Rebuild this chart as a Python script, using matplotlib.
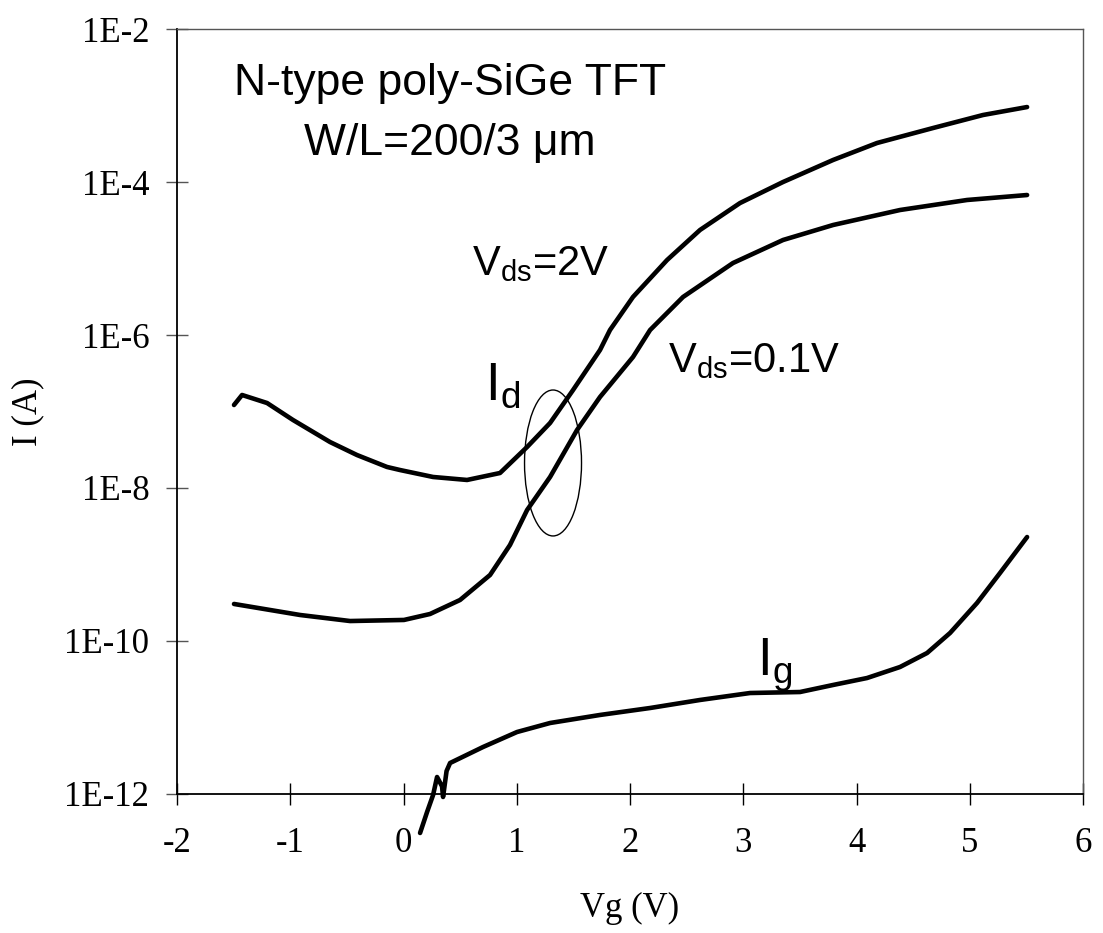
import numpy as np
import matplotlib
matplotlib.use('Agg')
import matplotlib.pyplot as plt
from matplotlib.patches import Ellipse

############################################################
# Data (Vg in V, log10 of current in A)

vg_2v = [-1.497, -1.426, -1.205, -0.976, -0.649, -0.411, -0.146, -0.031, 0.261, 0.561,
         0.852, 1.091, 1.294, 1.497, 1.735, 1.823, 2.026, 2.327, 2.618, 2.971,
         3.351, 3.793, 4.181, 4.676, 5.117, 5.506]
logi_2v = [-6.915, -6.784, -6.889, -7.111, -7.399, -7.569, -7.725, -7.765, -7.856, -7.895,
           -7.804, -7.464, -7.150, -6.719, -6.196, -5.935, -5.503, -5.020, -4.627, -4.275,
           -4.000, -3.712, -3.490, -3.294, -3.124, -3.020]

vg_01v = [-1.497, -0.914, -0.472, 0.004, 0.234, 0.499, 0.764, 0.940, 1.091, 1.294,
          1.532, 1.735, 2.026, 2.177, 2.468, 2.909, 3.351, 3.793, 4.384, 4.976, 5.506]
logi_01v = [-9.516, -9.660, -9.739, -9.725, -9.647, -9.464, -9.137, -8.745, -8.288, -7.856,
            -7.242, -6.810, -6.288, -5.935, -5.503, -5.059, -4.758, -4.562, -4.366, -4.235, -4.170]

vg_ig = [0.146, 0.208, 0.261, 0.296, 0.340, 0.349, 0.380, 0.411, 0.702, 1.002,
         1.294, 1.735, 2.177, 2.618, 3.060, 3.501, 3.793, 4.093, 4.384, 4.623,
         4.826, 5.064, 5.267, 5.506]
logi_ig = [-12.510, -12.235, -12.013, -11.778, -11.90, -12.039, -11.70, -11.595, -11.386, -11.190,
           -11.072, -10.967, -10.876, -10.771, -10.680, -10.667, -10.575, -10.484, -10.340, -10.157,
           -9.895, -9.503, -9.111, -8.641]

yticks = [1e-12, 1e-10, 1e-8, 1e-6, 1e-4, 1e-2]
ytick_labels = ['1E-12', '1E-10', '1E-8', '1E-6', '1E-4', '1E-2']
xticks = [-2, -1, 0, 1, 2, 3, 4, 5, 6]

############################################################
# Plotting

plt.rcParams['mathtext.fontset'] = 'custom'
plt.rcParams['mathtext.rm'] = 'Liberation Sans'

fig = plt.figure(figsize=(11.03, 9.33), dpi=100)
ax = fig.add_axes([0.1605, 0.149, 0.8214, 0.8199])

lw = 3.3
for xs, ys, clip in [(vg_2v, logi_2v, True), (vg_01v, logi_01v, True),
                     (vg_ig, logi_ig, False)]:
    ax.plot(xs, 10.0 ** np.array(ys), color='k', lw=lw, solid_capstyle='round',
            solid_joinstyle='round', clip_on=clip)

ax.set_yscale('log')
ax.set_xlim(-2, 6)
ax.set_ylim(1e-12, 1e-2)
ax.set_yticks(yticks)
ax.set_yticklabels(ytick_labels)
ax.yaxis.set_minor_locator(matplotlib.ticker.NullLocator())
ax.set_xticks(xticks)
ax.set_xticklabels([str(x) for x in xticks])

serif = 'Liberation Serif'
for lab in ax.get_xticklabels() + ax.get_yticklabels():
    lab.set_family(serif)
    lab.set_fontsize(25)
ax.tick_params(axis='both', direction='inout', length=16, width=1.0)
ax.tick_params(axis='y', pad=12, color='#555555')
ax.tick_params(axis='x', pad=16, color='k')

ax.set_xlabel('Vg (V)', family=serif, size=25, labelpad=23)
ax.set_ylabel('I (A)', family=serif, size=25, labelpad=14)

for s in ['left', 'bottom']:
    ax.spines[s].set_color('k')
    ax.spines[s].set_linewidth(1.3)
for s in ['top', 'right']:
    ax.spines[s].set_color('#555555')
    ax.spines[s].set_linewidth(1.0)

sans = 'Liberation Sans'
ax.text(0.411, 10 ** -2.863, 'N-type poly-SiGe TFT', family=sans, size=32,
        ha='center', va='baseline')
ax.text(0.411, 10 ** -3.647, 'W/L=200/3 \u03bcm', family=sans, size=32,
        ha='center', va='baseline')
ax.text(0.605, 10 ** -5.216, r'$\mathrm{V_{ds}}$=2V', family=sans, size=30,
        ha='left', va='baseline')
ax.text(2.336, 10 ** -6.484, r'$\mathrm{V_{ds}}$=0.1V', family=sans, size=30,
        ha='left', va='baseline')
ax.text(0.72, 10 ** -6.850, r'$\mathrm{I_{d}}$', family=sans, size=38,
        ha='left', va='baseline')
ax.text(3.121, 10 ** -10.45, r'$\mathrm{I_{g}}$', family=sans, size=38,
        ha='left', va='baseline')

ax.add_patch(Ellipse((0.415, 0.4327), 0.0629, 0.1908, transform=ax.transAxes,
                     fill=False, edgecolor='k', lw=1.0))

fig.savefig('out.png', dpi=100)
